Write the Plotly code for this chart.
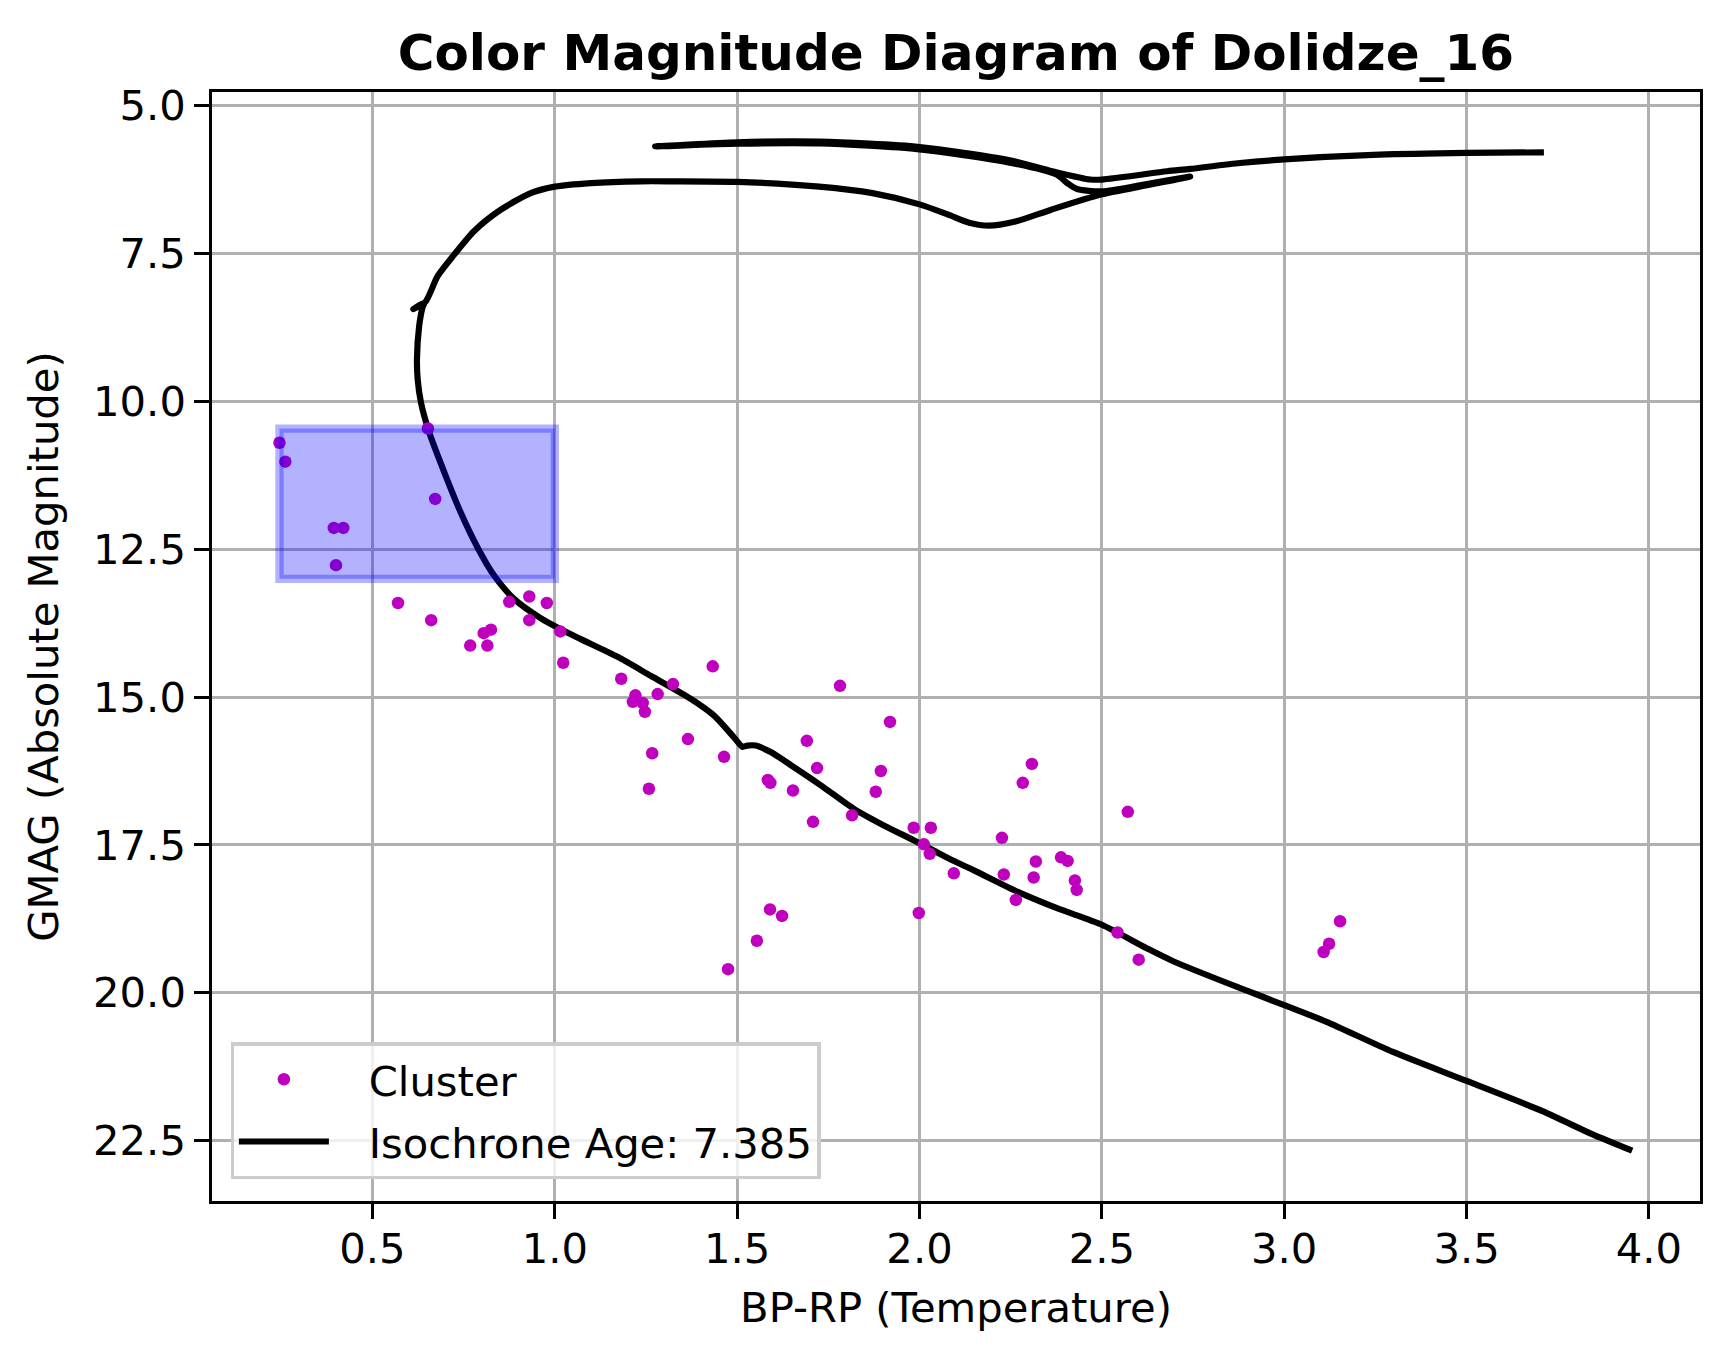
"""Colour-magnitude diagram of Dolidze_16 with a fitted isochrone."""

import plotly.graph_objects as go

# cluster members: BP-RP colour and G magnitude
cluster_bp_rp = [
    0.245, 0.261, 0.652, 0.672, 0.394, 0.420, 0.400, 0.570, 0.661, 0.875,
    0.930, 0.978, 0.930, 0.825, 0.805, 0.768, 0.815, 1.015, 1.023, 1.182,
    1.221, 1.214, 1.241, 1.247, 1.282, 1.324, 1.433, 1.365, 1.267, 1.258,
    1.464, 1.782, 1.919, 1.691, 1.719, 1.584, 1.591, 1.653, 1.894, 1.880,
    1.708, 1.815, 1.984, 2.031, 2.012, 2.028, 2.094, 1.590, 1.623, 1.554,
    1.475, 1.998, 2.308, 2.283, 2.571, 2.226, 2.231, 2.319, 2.313, 2.264,
    2.388, 2.406, 2.426, 2.431, 2.543, 2.601, 3.153, 3.123, 3.108,
]
cluster_gmag = [
    10.70, 11.02, 10.46, 11.65, 12.14, 12.14, 12.77, 13.41, 13.70, 13.39,
    13.30, 13.41, 13.70, 13.86, 13.92, 14.13, 14.13, 13.89, 14.42, 14.69,
    14.97, 15.08, 15.10, 15.25, 14.95, 14.78, 14.48, 15.71, 15.95, 16.55,
    16.01, 14.81, 15.42, 15.74, 16.20, 16.40, 16.45, 16.58, 16.25, 16.60,
    17.11, 17.00, 17.21, 17.21, 17.49, 17.65, 17.98, 18.59, 18.70, 19.12,
    19.60, 18.65, 16.13, 16.45, 16.94, 17.38, 18.00, 17.78, 18.05, 18.43,
    17.71, 17.77, 18.10, 18.26, 18.98, 19.44, 18.79, 19.17, 19.31,
]

# isochrone track, from the faint red end up to the supergiant branch
iso_bp_rp = [
    3.954, 3.844, 3.708, 3.500, 3.298, 3.116, 3.000, 2.934, 2.879, 2.697,
    2.624, 2.500, 2.377, 2.268, 2.149, 2.090, 2.040, 1.984, 1.902, 1.820,
    1.729, 1.647, 1.592, 1.551, 1.528, 1.514, 1.491, 1.436, 1.373, 1.263,
    1.172, 1.071, 1.015, 0.962, 0.888, 0.834, 0.788, 0.742, 0.697, 0.656,
    0.633, 0.624, 0.622, 0.628, 0.638, 0.643, 0.612, 0.645, 0.679, 0.724,
    0.779, 0.852, 0.934, 1.000, 1.099, 1.236, 1.318, 1.500, 1.725, 1.871,
    2.000, 2.077, 2.136, 2.190, 2.263, 2.361, 2.500, 2.620, 2.742,
    2.620, 2.500, 2.432, 2.405, 2.377, 2.244, 2.000, 1.725, 1.500, 1.275,
    1.500, 1.725, 2.000, 2.244, 2.377, 2.468, 2.500, 2.679, 2.742, 2.879,
    3.000, 3.261, 3.500, 3.712,
]
iso_gmag = [
    22.67, 22.39, 22.00, 21.49, 21.00, 20.49, 20.21, 20.05, 19.92, 19.47,
    19.25, 18.85, 18.57, 18.29, 17.93, 17.76, 17.60, 17.42, 17.17, 16.89,
    16.49, 16.15, 15.93, 15.82, 15.82, 15.84, 15.68, 15.31, 15.03, 14.64,
    14.32, 14.02, 13.85, 13.67, 13.34, 12.95, 12.47, 11.88, 11.20, 10.53,
    10.02, 9.63, 9.29, 8.73, 8.40, 8.33, 8.44, 8.32, 7.88, 7.52,
    7.12, 6.76, 6.48, 6.37, 6.31, 6.28, 6.28, 6.29, 6.37, 6.48,
    6.67, 6.84, 6.98, 7.03, 6.96, 6.76, 6.50, 6.35, 6.20,
    6.33, 6.45, 6.41, 6.31, 6.17, 5.96, 5.74, 5.64, 5.645, 5.69,
    5.62, 5.61, 5.70, 5.92, 6.13, 6.25, 6.25, 6.11, 6.07, 5.97,
    5.91, 5.83, 5.80, 5.79,
]

iso_age = 7.385

# highlighted selection box (colour, magnitude limits)
box_bp_rp = (0.245, 1.0)
box_gmag = (10.46, 13.0)

FONT = "DejaVu Sans"
W, H = 1728, 1361
L, R, T, B = 212, 28, 92, 160
PAD = "\u00a0\u00a0\u2009"  # gap between legend symbol and label

fig = go.Figure()
fig.add_trace(
    go.Scatter(
        x=iso_bp_rp,
        y=iso_gmag,
        mode="lines",
        line=dict(color="black", width=6.2, shape="spline", smoothing=0.7),
        name=f"{PAD}Isochrone Age: {iso_age}",
        legendrank=2,
        legendgroup="iso",
    )
)
fig.add_trace(
    go.Scatter(
        x=cluster_bp_rp,
        y=cluster_gmag,
        mode="markers",
        marker=dict(color="#bf00bf", size=12.5, line=dict(width=0)),
        name=f"{PAD}Cluster",
        legendrank=1,
        legendgroup="cluster",
    )
)

fig.add_shape(
    type="rect",
    xref="x",
    yref="y",
    x0=box_bp_rp[0],
    x1=box_bp_rp[1],
    y0=box_gmag[0],
    y1=box_gmag[1],
    fillcolor="rgba(0,0,255,0.3)",
    line=dict(color="rgba(0,0,255,0.3)", width=8.3),
    layer="above",
)

axis_common = dict(
    showgrid=True,
    gridcolor="#b0b0b0",
    gridwidth=3.3,
    zeroline=False,
    showline=True,
    linecolor="black",
    linewidth=3.3,
    mirror=True,
    ticks="outside",
    ticklen=14.6,
    tickwidth=3.3,
    tickcolor="black",
    tickfont=dict(family=FONT, size=41.7, color="black"),
    tickformat=".1f",
)

fig.update_xaxes(
    **axis_common,
    range=[0.060, 4.140],
    tick0=0.5,
    dtick=0.5,
    ticklabelstandoff=-6,
    title=dict(text="BP-RP (Temperature)", font=dict(family=FONT, size=41.7, color="black"), standoff=22),
)
fig.update_yaxes(
    **axis_common,
    range=[23.52, 4.77],
    tick0=5.0,
    dtick=2.5,
    title=dict(text="GMAG (Absolute Magnitude)", font=dict(family=FONT, size=41.7, color="black"), standoff=22),
)

fig.update_layout(
    width=W,
    height=H,
    margin=dict(l=L, r=R, t=T, b=B),
    paper_bgcolor="white",
    plot_bgcolor="white",
    font=dict(family=FONT, color="black"),
    title=dict(
        text="Color Magnitude Diagram of Dolidze_16",
        font=dict(family=FONT, size=50, color="black", weight="bold"),
        x=0.5,
        xref="paper",
        xanchor="center",
        y=1 - 52 / H,
        yref="container",
        yanchor="middle",
    ),
    legend=dict(
        x=0.0125,
        y=0.0195,
        xanchor="left",
        yanchor="bottom",
        bgcolor="rgba(255,255,255,0.8)",
        bordercolor="#cccccc",
        borderwidth=3.3,
        font=dict(family=FONT, size=41.7, color="black"),
        itemwidth=90,
        traceorder="grouped",
        tracegroupgap=5,
    ),
    showlegend=True,
)

fig.write_html(
    "out.html",
    config={"displayModeBar": False},
    post_script="document.body.style.margin='0';",
)
